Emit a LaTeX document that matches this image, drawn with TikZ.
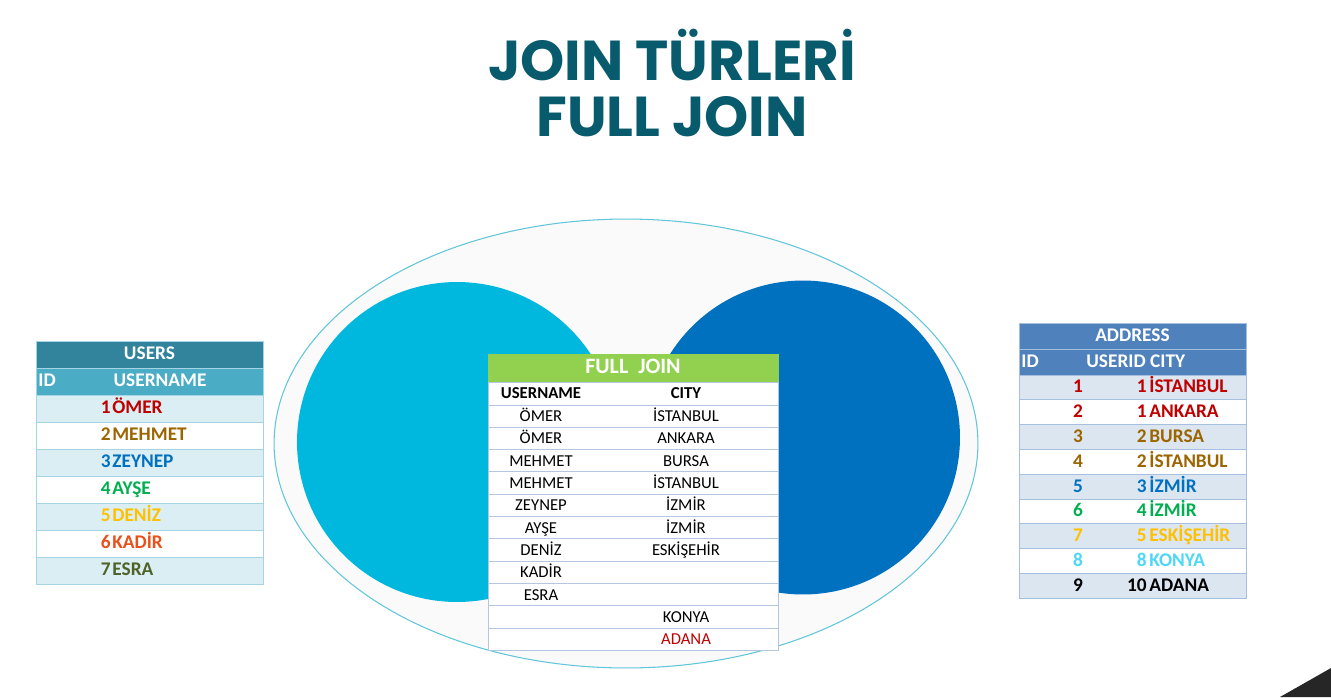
\documentclass[tikz,border=0pt]{standalone}
\usepackage{fontspec}
\setmainfont{Carlito}
\newfontfamily\ttlfont{Poppins}
\usetikzlibrary{positioning,shapes.geometric}
\definecolor{jointeal}{HTML}{075B6C}
\definecolor{ringline}{HTML}{62C6DA}
\definecolor{ringfill}{HTML}{FAFAFB}
\definecolor{lcirc}{HTML}{00B7DE}
\definecolor{rcirc}{HTML}{0071BF}
\definecolor{usrdark}{HTML}{31849B}
\definecolor{usrmid}{HTML}{4BACC6}
\definecolor{usrlight}{HTML}{DAEEF3}
\definecolor{usrline}{HTML}{A5D5E4}
\definecolor{adrblue}{HTML}{4F81BD}
\definecolor{adrlight}{HTML}{DCE6F1}
\definecolor{adrline}{HTML}{A7BFDE}
\definecolor{fjgreen}{HTML}{92D050}
\definecolor{fjline}{HTML}{B4C6E0}
\definecolor{cred}{HTML}{C00000}
\definecolor{cbrown}{HTML}{9C6500}
\definecolor{cblue}{HTML}{0070C0}
\definecolor{cgreen}{HTML}{00B050}
\definecolor{cgold}{HTML}{FFC000}
\definecolor{corange}{HTML}{E9501B}
\definecolor{cdkgreen}{HTML}{4F6228}
\definecolor{ccyan}{HTML}{4DD8F8}
\tikzset{
  ttl/.style={font=\ttlfont\fontsize{32}{40}\selectfont\bfseries, text=jointeal, inner sep=0pt},
  cell/.style={inner sep=0pt, minimum height=#1, line width=0.5pt},
  urow/.style={cell=0.54cm, minimum width=4.54cm, draw=usrline},
  arow/.style={cell=0.496cm, minimum width=4.54cm, draw=adrline},
  frow/.style={cell=0.446cm, minimum width=5.8cm, draw=fjline, fill=white},
  txt/.style={inner sep=0pt, text height=1.45ex, text depth=0.15ex},
  hd/.style={txt, font=\fontsize{11}{13}\selectfont\bfseries, text=white},
  bdat/.style={txt, font=\fontsize{11}{13}\selectfont\bfseries},
  fdat/.style={txt, font=\fontsize{9.5}{11}\selectfont},
}
\begin{document}
\begin{tikzpicture}[x=0.02cm, y=-0.02cm]
  \useasboundingbox[fill=white] (0,0) rectangle (1331,697);
  % title
  \node[ttl] (ttl1) at (672,55) {JOIN TÜRLERİ};
  \node[ttl] (ttl2) at (672,117) {FULL JOIN};
  % venn
  \node[draw=ringline, fill=ringfill, ellipse, minimum width=14.08cm, minimum height=8.98cm, line width=0.6pt] (ring) at (626,443.5) {};
  \node[circle, fill=lcirc, minimum size=6.4cm, inner sep=0pt] (lset) at (457,442) {};
  \node[circle, fill=rcirc, minimum size=6.28cm, inner sep=0pt] (rset) at (803,437.5) {};
  % USERS
  \node[urow, fill=usrdark] (utop) at (149.5,354.5) {};
  \node[hd] (utxt) at (utop) {USERS};
  \node[urow, fill=usrmid] (uhead) at (149.5,381.5) {};
  \node[hd, anchor=west] (uid) at (38,381.5) {ID};
  \node[hd] (uname) at (160,381.5) {USERNAME};
  \foreach \i/\nm/\c/\f in {1/ÖMER/cred/usrlight, 2/MEHMET/cbrown/white, 3/ZEYNEP/cblue/usrlight,
      4/AYŞE/cgreen/white, 5/DENİZ/cgold/usrlight, 6/KADİR/corange/white, 7/ESRA/cdkgreen/usrlight} {
    \pgfmathsetmacro\y{395+27*(\i-0.5)}
    \node[urow, fill=\f] (u\i) at (149.5,\y) {};
    \node[bdat, text=\c, anchor=east] (un\i) at (111,\y) {\i};
    \node[bdat, text=\c, anchor=west] (us\i) at (112,\y) {\nm};
  }
  % ADDRESS
  \node[arow, fill=adrblue, cell=0.52cm] (atop) at (1132.5,336) {};
  \node[hd] (atxt) at (atop) {ADDRESS};
  \node[arow, fill=adrblue, cell=0.52cm] (ahead) at (1132.5,362) {};
  \node[hd, anchor=west] (aid) at (1021,362) {ID};
  \node[hd, anchor=west] (acol) at (1086,362) {USERID CITY};
  \foreach \i/\u/\ct/\c/\f in {1/1/İSTANBUL/cred/adrlight, 2/1/ANKARA/cred/white, 3/2/BURSA/cbrown/adrlight,
      4/2/İSTANBUL/cbrown/white, 5/3/İZMİR/cblue/adrlight, 6/4/İZMİR/cgreen/white,
      7/5/ESKİŞEHİR/cgold/adrlight, 8/8/KONYA/ccyan/white, 9/10/ADANA/black/adrlight} {
    \pgfmathsetmacro\y{375+24.8*(\i-0.5)}
    \node[arow, fill=\f] (a\i) at (1132.5,\y) {};
    \node[bdat, text=\c] (ai\i) at (1078,\y) {\i};
    \node[bdat, text=\c, anchor=east] (au\i) at (1147,\y) {\u};
    \node[bdat, text=\c, anchor=west] (ac\i) at (1149,\y) {\ct};
  }
  % FULL JOIN result
  \node[frow, fill=fjgreen, cell=0.56cm, draw=fjgreen] (ftop) at (633,368) {};
  \node[txt, font=\fontsize{12.5}{14}\selectfont\bfseries, text=white] (ftxt) at (ftop) {FULL~~JOIN};
  \node[frow, cell=0.46cm] (fhead) at (633,393.5) {};
  \node[fdat, font=\fontsize{9.5}{11}\selectfont\bfseries] (fhu) at (541,393.5) {USERNAME};
  \node[fdat, font=\fontsize{9.5}{11}\selectfont\bfseries] (fhc) at (686,393.5) {CITY};
  \foreach \i/\un/\ct/\c in {1/ÖMER/İSTANBUL/black, 2/ÖMER/ANKARA/black, 3/MEHMET/BURSA/black,
      4/MEHMET/İSTANBUL/black, 5/ZEYNEP/İZMİR/black, 6/AYŞE/İZMİR/black, 7/DENİZ/ESKİŞEHİR/black,
      8/KADİR//black, 9/ESRA//black, 10//KONYA/black, 11//ADANA/cred} {
    \pgfmathsetmacro\y{405+22.3*(\i-0.5)}
    \node[frow] (f\i) at (633,\y) {};
    \node[fdat] (fu\i) at (541,\y) {\un};
    \node[fdat, text=\c] (fc\i) at (686,\y) {\ct};
  }
  % screen corner
  \fill[black!85] (1280,697) -- (1331,668) -- (1331,697) -- cycle;
\end{tikzpicture}
\end{document}
